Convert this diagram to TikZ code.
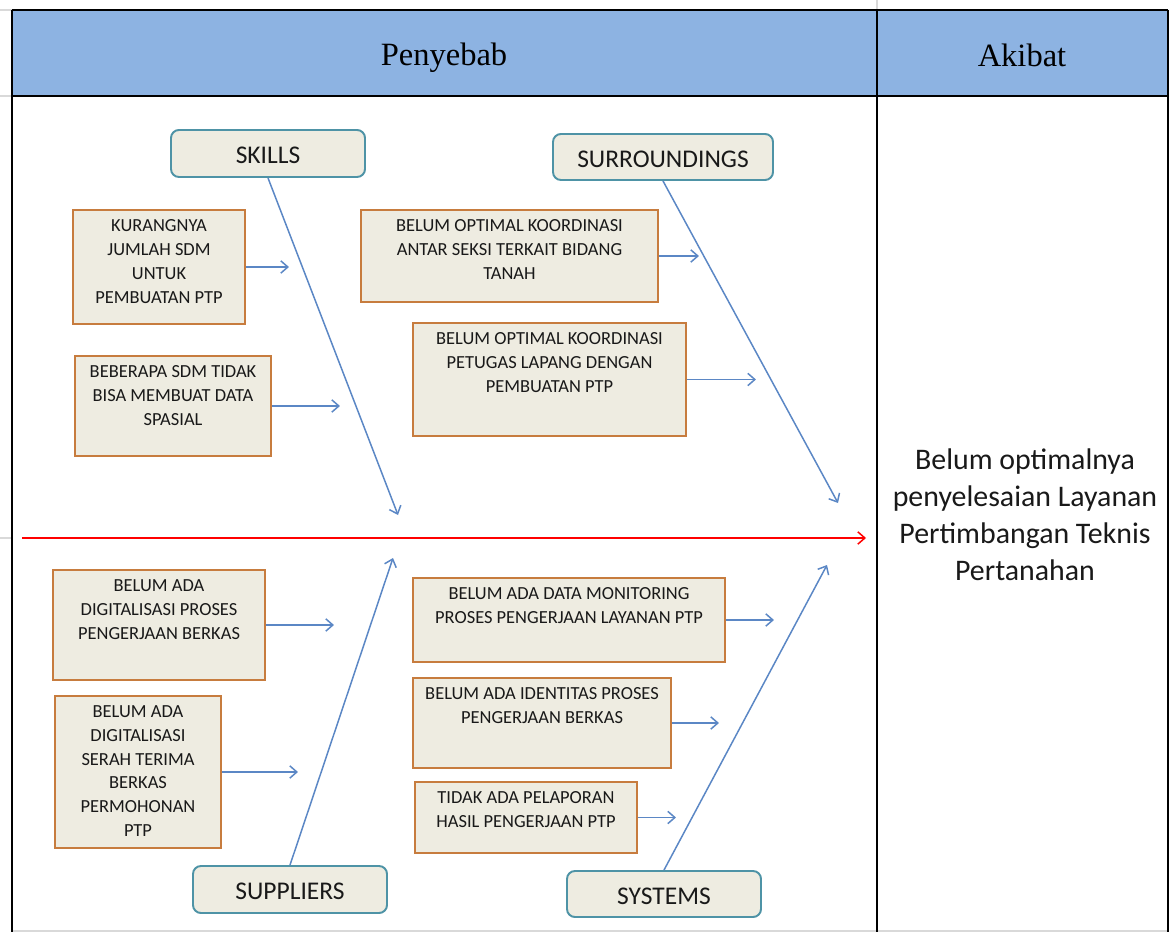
\documentclass[tikz,border=0pt]{standalone}
\usepackage{fontspec}
\setmainfont{Carlito}
\newfontfamily\headfont{Liberation Serif}
\usetikzlibrary{arrows.meta,calc,fit,positioning}

\definecolor{hdrblue}{HTML}{8DB3E2}
\definecolor{boxfill}{HTML}{EEECE1}
\definecolor{causeline}{HTML}{C77C3E}
\definecolor{catline}{HTML}{4E93A6}
\definecolor{boneblue}{HTML}{5B87C5}

\tikzset{
  cause/.style={draw=causeline, line width=1.1pt, fill=boxfill, inner sep=0pt},
  causetext/.style={font=\fontsize{10.5}{13.6}\selectfont, align=center, inner sep=0pt, text=black!90},
  category/.style={draw=catline, line width=1.1pt, fill=boxfill, rounded corners=4.5pt, inner sep=0pt},
  cattext/.style={font=\fontsize{14.5}{16}\selectfont, text=black!90, inner sep=0pt},
  bone/.style={draw=boneblue, line width=0.85pt, -{Straight Barb[length=4pt,width=7pt]}},
  spine/.style={draw=red, line width=0.85pt, -{Straight Barb[length=4pt,width=7pt]}},
  tbl/.style={draw=black, line width=1.2pt},
  gridline/.style={draw=black!15, line width=0.6pt}
}

\begin{document}
\begin{tikzpicture}[x=0.02cm,y=-0.02cm]
\useasboundingbox (0,0) rectangle (1170,932);

% table
\fill[hdrblue] (12,10) rectangle (1168,96);
\draw[gridline] (0,10) -- (12,10) (0,96) -- (12,96) (0,538) -- (12,538) (877,0) -- (877,10);
\draw[gridline] (12,931) -- (1168,931);
\draw[tbl] (12,10) -- (1168,10) (12,96) -- (1168,96);
\draw[tbl] (12,10) -- (12,932) (877,10) -- (877,932) (1168,10) -- (1168,932);
\node[anchor=base, font=\headfont\fontsize{18.5}{20}\selectfont] (penyebab) at (444,66) {Penyebab};
\node[anchor=base, font=\headfont\fontsize{18.5}{20}\selectfont] (akibat) at (1022,67) {Akibat};

% effect
\node[align=center, font=\fontsize{17}{21}\selectfont, text=black!90] (effect) at (1025,515)
  {Belum optimalnya\\penyelesaian Layanan\\Pertimbangan Teknis\\Pertanahan};

% spine
\coordinate (tail) at (22,538);
\coordinate (head) at (866,538);
\draw[spine] (tail) -- (head);

% categories
\node[category, fit={(171,130) (365,177)}] (skills) {};
\node[category, fit={(553,134) (773,180)}] (surr) {};
\node[category, fit={(193,866) (387,913)}] (supp) {};
\node[category, fit={(567,871) (761,917)}] (sys) {};
\node[cattext] (skills-txt) at ([yshift=-0.04cm]skills.center) {SKILLS};
\node[cattext] (surr-txt) at ([yshift=-0.04cm]surr.center) {SURROUNDINGS};
\node[cattext] (supp-txt) at ([yshift=-0.04cm]supp.center) {SUPPLIERS};
\node[cattext] (sys-txt) at ([yshift=-0.04cm]sys.center) {SYSTEMS};

\coordinate (skills-end) at (398,515);
\coordinate (surr-end) at (838,503);
\coordinate (supp-end) at (393,558);
\coordinate (sys-end) at (827,565);
\draw[bone] (skills.south) -- (skills-end);
\draw[bone] (surr.south) -- (surr-end);
\draw[bone] (supp.north) -- (supp-end);
\draw[bone] (sys.north) -- (sys-end);

% causes
\foreach \i/\xa/\ya/\xb/\yb/\len/\txt in {
  1/73/210/245/324/43/{KURANGNYA\\JUMLAH SDM\\UNTUK\\PEMBUATAN PTP},
  2/75/356/271/456/68/{BEBERAPA SDM TIDAK\\BISA MEMBUAT DATA\\SPASIAL},
  3/361/210/658/302/40/{BELUM OPTIMAL KOORDINASI\\ANTAR SEKSI TERKAIT BIDANG\\TANAH},
  4/413/323/686/436/69/{BELUM OPTIMAL KOORDINASI\\PETUGAS LAPANG DENGAN\\PEMBUATAN PTP},
  5/53/570/265/680/68/{BELUM ADA\\DIGITALISASI PROSES\\PENGERJAAN BERKAS},
  6/55/696/221/848/76/{BELUM ADA\\DIGITALISASI\\SERAH TERIMA\\BERKAS\\PERMOHONAN\\PTP},
  7/413/578/725/662/48/{BELUM ADA DATA MONITORING\\PROSES PENGERJAAN LAYANAN PTP},
  8/413/678/671/768/47/{BELUM ADA IDENTITAS PROSES\\PENGERJAAN BERKAS},
  9/415/782/637/853/38/{TIDAK ADA PELAPORAN\\HASIL PENGERJAAN PTP}}
{
  \node[cause, fit={(\xa,\ya) (\xb,\yb)}] (c\i) {};
  \node[causetext, anchor=north] (c\i-txt) at ([yshift=-0.2cm]c\i.north) {\txt};
  \coordinate (c\i-end) at ($(c\i.east)+(\len,0)$);
  \draw[bone] (c\i.east) -- (c\i-end);
}

\end{tikzpicture}
\end{document}
